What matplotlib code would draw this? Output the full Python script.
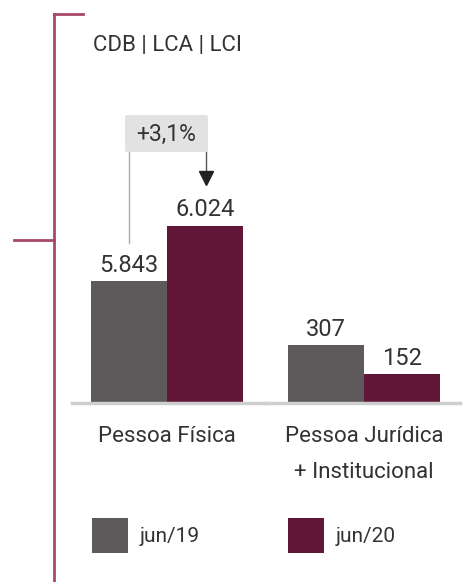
import matplotlib.pyplot as plt
from matplotlib.lines import Line2D
from matplotlib.patches import FancyBboxPatch

plt.rcParams['font.family'] = ['Roboto', 'DejaVu Sans']

title = "CDB | LCA | LCI"
groups = ["Pessoa Física", "Pessoa Jurídica\n+ Institucional"]
series = ["jun/19", "jun/20"]
jun19 = [5843, 307]
jun20 = [6024, 152]
labels19 = ["5.843", "307"]
labels20 = ["6.024", "152"]
change_label = "+3,1%"

GRAY = "#5e5a5b"
WINE = "#621638"
ROSE = "#a8486c"
TXT = "#333333"

W, H = 466, 582
fig = plt.figure(figsize=(W / 100, H / 100), dpi=100)


def fx(x):
    return x / W


def fy(y):
    return 1 - y / H


# two panels: the first one has a truncated y axis (the original isn't to scale)
base, top = 403, 100
ax1 = fig.add_axes([fx(72), fy(base), fx(194), (base - top) / H])
ax2 = fig.add_axes([fx(266), fy(base), fx(194), (base - top) / H])
ax1.set_ylim(5450, 6430)
ax2.set_ylim(0, 1595)
ax1.set_xlim(-1.25, 1.3)
ax2.set_xlim(-1.29, 1.26)

for i, ax in enumerate([ax1, ax2]):
    ax.bar(-0.5, jun19[i], width=1, color=GRAY)
    ax.bar(0.5, jun20[i], width=1, color=WINE)
    ax.annotate(labels19[i], (-0.5, jun19[i]), xytext=(0, 3), textcoords='offset points',
                ha='center', va='bottom', fontsize=17, color=TXT)
    ax.annotate(labels20[i], (0.5, jun20[i]), xytext=(0, 3), textcoords='offset points',
                ha='center', va='bottom', fontsize=17, color=TXT)
    ax.text(0, -0.075, groups[i], transform=ax.get_xaxis_transform(), ha='center', va='top',
            fontsize=16, color=TXT, linespacing=1.95)
    for s in ['top', 'left', 'right']:
        ax.spines[s].set_visible(False)
    ax.spines['bottom'].set_color('#cfcfcf')
    ax.spines['bottom'].set_linewidth(2.5)
    ax.set_xticks([])
    ax.set_yticks([])
    ax.patch.set_alpha(0)

# title
fig.text(fx(93), fy(46), title, ha='left', va='center', fontsize=16, color=TXT)

# bracket on the left
for xs, ys in [([54, 54], [14, 582]), ([54, 83], [14, 14]), ([14, 54], [240, 240])]:
    fig.add_artist(Line2D([fx(x) for x in xs], [fy(y) for y in ys],
                          color=ROSE, linewidth=2, transform=fig.transFigure))

# +3,1% callout
fig.add_artist(Line2D([fx(129), fx(129)], [fy(152), fy(243)], color='#aaaaaa',
                      linewidth=1, transform=fig.transFigure))
fig.add_artist(Line2D([fx(206), fx(206)], [fy(152), fy(172)], color='#555555',
                      linewidth=1, transform=fig.transFigure))
fig.add_artist(Line2D([fx(206)], [fy(178)], marker='v', markersize=10, color='#222222',
                      linestyle='none', transform=fig.transFigure))
fig.add_artist(FancyBboxPatch((fx(125), fy(152)), fx(83), (152 - 115) / H,
                              boxstyle='round,pad=0,rounding_size=0.004',
                              facecolor='#e2e2e2', edgecolor='none', transform=fig.transFigure))
fig.text(fx(166), fy(134), change_label, ha='center', va='center', fontsize=16.5, color=TXT)

# legend
for x0, name, col in [(92, series[0], GRAY), (288, series[1], WINE)]:
    fig.add_artist(FancyBboxPatch((fx(x0), fy(553)), fx(36), 35 / H,
                                  boxstyle='square,pad=0', facecolor=col, edgecolor='none',
                                  transform=fig.transFigure))
    fig.text(fx(x0 + 48), fy(536), name, ha='left', va='center', fontsize=15, color=TXT)

fig.savefig("out.png", dpi=100)
